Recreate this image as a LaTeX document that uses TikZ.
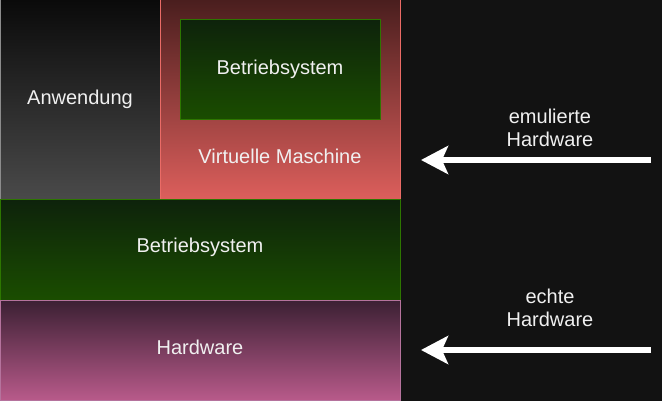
\documentclass[tikz,border=0pt]{standalone}
\usepackage{fontspec}
\setmainfont{Liberation Sans}
\usetikzlibrary{arrows.meta}
\definecolor{bgc}{HTML}{121212}
\definecolor{txt}{HTML}{F0F0F0}
\definecolor{anwtop}{HTML}{0A0A0A}
\definecolor{anwbot}{HTML}{4A4A4A}
\definecolor{anwline}{HTML}{8C8C8C}
\definecolor{vmtop}{HTML}{4A1E1E}
\definecolor{vmbot}{HTML}{DD5F5C}
\definecolor{vmline}{HTML}{EA6B66}
\definecolor{gtop}{HTML}{0E230B}
\definecolor{gbot}{HTML}{1A4D00}
\definecolor{gline}{HTML}{2D7600}
\definecolor{htop}{HTML}{3B2033}
\definecolor{hbot}{HTML}{B85A8A}
\definecolor{hline}{HTML}{B5739D}
\tikzset{
  boxbase/.style={rectangle, inner sep=0pt, line width=1pt, text=txt,
    font=\fontsize{20}{24}\selectfont, text height=14pt, text depth=4pt},
  anwbox/.style={boxbase, draw=anwline, top color=anwtop, bottom color=anwbot},
  vmbox/.style={boxbase, draw=vmline, top color=vmtop, bottom color=vmbot},
  osbox/.style={boxbase, draw=gline, top color=gtop, bottom color=gbot},
  hwbox/.style={boxbase, draw=hline, top color=htop, bottom color=hbot},
  plaintext/.style={text=txt, inner sep=0pt, font=\fontsize{20}{24}\selectfont, text height=14pt, text depth=4pt},
  arrowlabel/.style={text=txt, inner sep=0pt, align=center, font=\fontsize{20}{23.5}\selectfont},
  bigarrow/.style={draw=white, line width=6.5pt, -{Stealth[length=27pt,width=28pt,inset=6pt]}}
}
\begin{document}
\begin{tikzpicture}[x=1pt,y=-1pt]
\useasboundingbox (0,0) rectangle (662,401);
\fill[bgc] (0,0) rectangle (662,401);
\node[anwbox, minimum width=160pt, minimum height=200pt] (anw) at (80,100) {Anwendung};
\node[vmbox, minimum width=240pt, minimum height=200pt] (vm) at (280,100) {};
\node[osbox, minimum width=200pt, minimum height=100pt] (vmos) at (280,70) {Betriebsystem};
\node[plaintext] (vmtext) at (280,159) {Virtuelle Maschine};
\node[osbox, minimum width=400pt, minimum height=100pt] (os) at (200,250) {};
\node[plaintext] (ostext) at (200,248) {Betriebsystem};
\node[hwbox, minimum width=400pt, minimum height=100pt] (hw) at (200,350) {};
\node[plaintext] (hwtext) at (200,349) {Hardware};
\node[arrowlabel] (l1) at (550,128) {emulierte\\Hardware};
\node[arrowlabel] (l2) at (550,308) {echte\\Hardware};
\coordinate (a1s) at (651,160);
\coordinate (a1e) at (421,160);
\coordinate (a2s) at (651,350);
\coordinate (a2e) at (421,350);
\draw[bigarrow] (a1s) -- (a1e);
\draw[bigarrow] (a2s) -- (a2e);
\end{tikzpicture}
\end{document}
